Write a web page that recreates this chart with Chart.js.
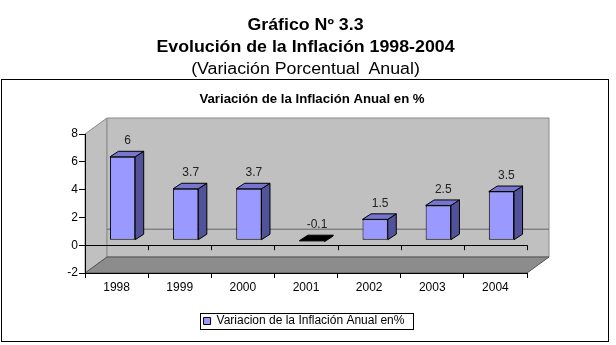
<!DOCTYPE html>
<html>
<head>
<meta charset="utf-8">
<script src="https://cdn.jsdelivr.net/npm/chart.js@4.4.1/dist/chart.umd.min.js"></script>
<style>
  html, body { margin: 0; padding: 0; background: #fff; }
  #wrap { position: relative; width: 616px; height: 345px; overflow: hidden; }
  #grafico { position: absolute; left: 0; top: 0; }
  .t { position: absolute; left: 0; width: 611px; text-align: center; font-family: 'Liberation Sans', Arial, sans-serif;
       font-size: 16px; line-height: 20px; color: #000; transform: scaleX(1.11); white-space: pre; }
</style>
</head>
<body>
<div id="wrap">
  <canvas id="grafico" width="616" height="345"></canvas>
  <div class="t" style="top:15px;font-weight:bold">Gráfico Nº 3.3</div>
  <div class="t" style="top:37px;font-weight:bold">Evolución de la Inflación 1998-2004</div>
  <div class="t" style="top:59px">(Variación Porcentual  Anual)</div>
</div>
<script>
// datos
const years = ['1998', '1999', '2000', '2001', '2002', '2003', '2004'];
const inflation = [6, 3.7, 3.7, -0.1, 1.5, 2.5, 3.5];
const yMin = -2, yMax = 8, yStep = 2;
const serieName = 'Variacion de la Inflación Anual en%';
const innerTitle = 'Variación de la Inflación Anual en %';

Chart.defaults.font.family = "'Liberation Sans', Arial, sans-serif";
Chart.defaults.font.size = 12;
Chart.defaults.color = '#000';

// efecto 3D
const DX = 22, DY = -16;      // profundidad de paredes y piso
const BX = 6, BY = -5;        // desplazamiento de las barras
const DDX = 8.5, DDY = -5.5;  // profundidad de cada barra

function poly(ctx, pts, fill, stroke) {
  ctx.beginPath();
  ctx.moveTo(pts[0][0], pts[0][1]);
  for (let i = 1; i < pts.length; i++) ctx.lineTo(pts[i][0], pts[i][1]);
  ctx.closePath();
  if (fill) { ctx.fillStyle = fill; ctx.fill(); }
  if (stroke) { ctx.strokeStyle = stroke; ctx.stroke(); }
}

const plot3d = {
  id: 'plot3d',
  beforeDraw(chart) {
    const { ctx, chartArea: a, scales: { y } } = chart;
    const top = y.getPixelForValue(yMax), bot = y.getPixelForValue(yMin), zero = y.getPixelForValue(0);
    ctx.save();
    ctx.fillStyle = '#fff';
    ctx.fillRect(0, 0, chart.width, chart.height);
    ctx.lineWidth = 1;
    ctx.strokeStyle = '#000';
    ctx.strokeRect(1.5, 79.5, 607, 262);

    // titulo interior
    ctx.save();
    ctx.translate(312, 100);
    ctx.scale(1.1, 1);
    ctx.font = "bold 12px 'Liberation Sans', Arial";
    ctx.fillStyle = '#000';
    ctx.textAlign = 'center';
    ctx.textBaseline = 'middle';
    ctx.fillText(innerTitle, 0, 0);
    ctx.restore();

    // pared lateral, pared del fondo y piso
    poly(ctx, [[a.left, top], [a.left + DX, top + DY], [a.left + DX, bot + DY], [a.left, bot]], '#c0c0c0', '#8a8a8a');
    poly(ctx, [[a.left + DX, top + DY], [a.right + DX, top + DY], [a.right + DX, bot + DY], [a.left + DX, bot + DY]], '#c0c0c0', '#8a8a8a');
    poly(ctx, [[a.left, bot], [a.right, bot], [a.right + DX, bot + DY], [a.left + DX, bot + DY]], '#8c8c8c', '#555');

    // linea del cero en el fondo
    ctx.strokeStyle = '#666';
    ctx.beginPath();
    ctx.moveTo(a.left + DX, zero + DY);
    ctx.lineTo(a.right + DX, zero + DY);
    ctx.stroke();

    // marcas de categoria sobre el eje del cero
    ctx.strokeStyle = '#000';
    ctx.beginPath();
    for (let i = 0; i <= years.length; i++) {
      const x = Math.round(a.left + i * (a.right - a.left) / years.length) + 0.5;
      ctx.moveTo(x, zero);
      ctx.lineTo(x, zero + 5);
    }
    ctx.stroke();
    ctx.restore();
  },
  beforeDatasetsDraw(chart) {
    chart.ctx.save();
    chart.ctx.translate(BX, BY);
  },
  afterDatasetsDraw(chart) {
    const ctx = chart.ctx;
    const meta = chart.getDatasetMeta(0);
    ctx.lineWidth = 1;
    meta.data.forEach((bar, i) => {
      const { x, y, base, width } = bar.getProps(['x', 'y', 'base', 'width'], true);
      const l = x - width / 2, r = x + width / 2;
      const t = Math.min(y, base), b = Math.max(y, base);
      poly(ctx, [[r, t], [r + DDX, t + DDY], [r + DDX, b + DDY], [r, b]], '#52529a', '#000');
      poly(ctx, [[l, t], [l + DDX, t + DDY], [r + DDX, t + DDY], [r, t]], inflation[i] < 0 ? '#000' : '#7676d0', '#000');
      ctx.fillStyle = '#222';
      ctx.font = "12px 'Liberation Sans', Arial";
      ctx.textAlign = 'center';
      ctx.textBaseline = 'middle';
      ctx.fillText(String(inflation[i]), x + 5, t - 16);
    });
    ctx.restore();
  },
  afterDraw(chart) {
    const hb = chart.legend && chart.legend.legendHitBoxes[0];
    if (!hb) return;
    const ctx = chart.ctx;
    ctx.save();
    ctx.strokeStyle = '#000';
    ctx.lineWidth = 1;
    ctx.strokeRect(Math.round(hb.left - 4) + 0.5, Math.round(hb.top - 2) + 0.5, Math.round(hb.width + 12), Math.round(hb.height + 4));
    ctx.restore();
  }
};

new Chart(document.getElementById('grafico'), {
  type: 'bar',
  data: {
    labels: years,
    datasets: [{
      label: serieName,
      data: inflation,
      backgroundColor: '#9999ff',
      borderColor: '#000',
      borderWidth: 1,
      borderSkipped: false,
      barPercentage: 0.4,
      categoryPercentage: 1
    }]
  },
  options: {
    responsive: false,
    animation: false,
    layout: { padding: { top: 134, bottom: 8, left: 0, right: 8 } },
    plugins: {
      title: { display: false },
      tooltip: { enabled: false },
      legend: {
        position: 'bottom',
        labels: { boxWidth: 7, boxHeight: 7, padding: 10, color: '#000', font: { size: 12 } }
      }
    },
    scales: {
      x: {
        grid: { display: true, drawOnChartArea: false, drawTicks: true, tickLength: 5, tickColor: '#000', offset: true },
        border: { display: true, color: '#000' },
        ticks: { padding: 2, color: '#000', font: { size: 12 } },
        afterFit: s => { s.height = 32; }
      },
      y: {
        min: yMin, max: yMax,
        ticks: { stepSize: yStep, padding: 1, color: '#000', font: { size: 12 } },
        grid: {
          color: c => (c.tick && c.tick.value === 0 ? '#000' : 'rgba(0,0,0,0)'),
          tickColor: '#000', tickLength: 6
        },
        border: { display: true, color: '#000' },
        afterFit: s => { s.width = 85; }
      },
      y2: {
        position: 'right',
        display: true,
        grid: { display: false },
        border: { display: false },
        ticks: { display: false },
        afterFit: s => { s.width = 81; }
      }
    }
  },
  plugins: [plot3d]
});
</script>
</body>
</html>
